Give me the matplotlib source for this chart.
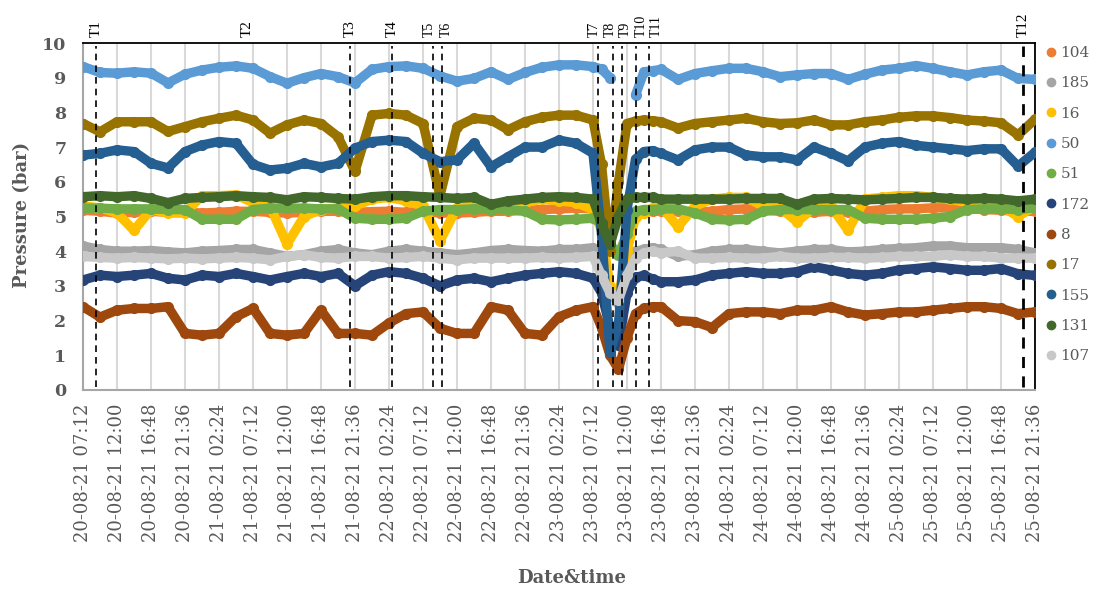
import numpy as np
import matplotlib
matplotlib.use("Agg")
import matplotlib.pyplot as plt
from matplotlib.lines import Line2D

# time axis: hours after 20-08-21 07:12
hours = [0, 2.4, 4.8, 7.2, 9.6, 12, 14.4, 16.8, 19.2, 21.6, 24, 26.4, 28.8, 31.2, 33.6, 36,
         38.4, 40.8, 43.2, 45.6, 48, 50.4, 52.8, 55.2, 57.6, 60, 62.4, 64.8, 67.2, 69.6, 72,
         73.2, 74.4, 75.6, 76.8, 78.0, 79.2, 80.4,
         81.6, 84, 86.4, 88.8, 91.2, 93.6, 96, 98.4, 100.8, 103.2, 105.6, 108, 110.4, 112.8,
         115.2, 117.6, 120, 122.4, 124.8, 127.2, 129.6, 132, 134.4]
nan = np.nan

s104 = [5.18, 5.15, 5.10, 5.12, 5.15, 5.12, 5.12, 5.10, 5.12, 5.15, 5.15, 5.12, 5.10, 5.12, 5.15, 5.15,
        5.12, 5.14, 5.15, 5.12, 5.15, 5.10, 5.10, 5.12, 5.15, 5.15, 5.18, 5.20, 5.22, 5.24, 5.22,
        5.0, nan, nan, nan, 5.1, 5.12, 5.15,
        5.15, 5.15, 5.12, 5.15, 5.20, 5.22, 5.18, 5.15, 5.12, 5.12, 5.15, 5.12, 5.15, 5.20, 5.22,
        5.22, 5.25, 5.25, 5.22, 5.20, 5.18, 5.15, 5.15]
s185 = [4.15, 4.05, 4.00, 4.00, 4.02, 3.98, 3.95, 4.00, 4.02, 4.05, 4.05, 3.95, 3.85, 3.90, 4.00, 4.05,
        3.95, 3.90, 4.00, 4.05, 4.00, 3.95, 3.90, 3.95, 4.02, 4.05, 4.02, 4.00, 4.05, 4.05, 4.10,
        3.6, 2.8, 2.5, 3.5, 4.0, 4.05, 4.1,
        4.05, 3.85, 3.90, 4.00, 4.05, 4.05, 4.00, 3.95, 4.00, 4.05, 4.05, 3.98, 4.00, 4.05, 4.08,
        4.10, 4.15, 4.15, 4.10, 4.10, 4.10, 4.05, 3.95]
s16 = [5.30, 5.25, 5.10, 4.60, 5.20, 5.10, 5.10, 5.60, 5.60, 5.62, 5.40, 5.30, 4.20, 5.00, 5.20, 5.25,
       5.30, 5.50, 5.55, 5.45, 5.30, 4.30, 5.25, 5.30, 5.35, 5.20, 5.40, 5.50, 5.45, 5.40, 5.20,
       4.6, 3.0, 2.7, 4.0, 5.0, 5.1, 5.25,
       5.30, 4.70, 5.30, 5.50, 5.55, 5.55, 5.30, 5.25, 4.85, 5.25, 5.30, 4.60, 5.50, 5.55, 5.60,
       5.60, 5.55, 5.50, 5.40, 5.35, 5.30, 5.00, 5.30]
s50 = [9.32, 9.15, 9.13, 9.17, 9.13, 8.85, 9.10, 9.22, 9.30, 9.34, 9.27, 9.03, 8.84, 9.00, 9.12, 9.03,
       8.85, 9.24, 9.32, 9.34, 9.27, 9.05, 8.90, 8.98, 9.17, 8.95, 9.15, 9.30, 9.37, 9.37, 9.32,
       9.25, 9.00, nan, nan, 8.50, 9.17, 9.20,
       9.24, 8.95, 9.12, 9.20, 9.27, 9.27, 9.17, 9.03, 9.08, 9.12, 9.12, 8.95, 9.10, 9.22, 9.27,
       9.35, 9.27, 9.17, 9.08, 9.17, 9.22, 8.98, 8.95]
s51 = [5.24, 5.24, 5.22, 5.22, 5.22, 5.20, 5.20, 4.92, 4.92, 4.92, 5.20, 5.24, 5.24, 5.24, 5.22, 5.22,
       4.95, 4.92, 4.92, 4.95, 5.15, 5.20, 5.20, 5.22, 5.20, 5.20, 5.15, 4.92, 4.90, 4.92, 4.95,
       4.8, 4.2, 3.9, 4.5, 5.15, 5.20, 5.20,
       5.22, 5.22, 5.10, 4.92, 4.90, 4.92, 5.15, 5.20, 5.20, 5.20, 5.20, 5.20, 4.95, 4.92, 4.92,
       4.92, 4.95, 5.00, 5.20, 5.22, 5.22, 5.20, 5.25]
s172 = [3.17, 3.31, 3.27, 3.31, 3.36, 3.22, 3.17, 3.31, 3.27, 3.36, 3.27, 3.17, 3.27, 3.36, 3.27, 3.36,
        3.00, 3.31, 3.41, 3.36, 3.22, 3.00, 3.17, 3.22, 3.12, 3.22, 3.31, 3.36, 3.41, 3.36, 3.22,
        2.8, 1.8, 1.3, 2.8, 3.25, 3.30, 3.20,
        3.12, 3.12, 3.17, 3.31, 3.36, 3.41, 3.36, 3.36, 3.41, 3.55, 3.46, 3.36, 3.31, 3.36, 3.46,
        3.50, 3.55, 3.50, 3.45, 3.45, 3.50, 3.35, 3.30]
s8 = [2.40, 2.10, 2.30, 2.35, 2.35, 2.40, 1.63, 1.58, 1.63, 2.11, 2.35, 1.63, 1.58, 1.63, 2.30, 1.63,
      1.63, 1.58, 1.93, 2.20, 2.25, 1.78, 1.63, 1.63, 2.40, 2.30, 1.63, 1.58, 2.11, 2.30, 2.40,
      1.8, 1.0, 0.6, 1.5, 2.2, 2.35, 2.4,
      2.40, 2.00, 1.97, 1.80, 2.20, 2.25, 2.25, 2.20, 2.30, 2.30, 2.40, 2.25, 2.16, 2.20, 2.25,
      2.25, 2.30, 2.35, 2.40, 2.40, 2.35, 2.20, 2.25]
s17 = [7.68, 7.44, 7.73, 7.73, 7.73, 7.45, 7.59, 7.73, 7.83, 7.92, 7.78, 7.40, 7.64, 7.78, 7.68, 7.30,
       6.30, 7.92, 7.97, 7.92, 7.68, 5.60, 7.59, 7.83, 7.78, 7.50, 7.73, 7.86, 7.92, 7.92, 7.78,
       6.5, 4.0, 6.0, 7.68, 7.75, 7.78, 7.76,
       7.73, 7.55, 7.68, 7.73, 7.78, 7.83, 7.73, 7.68, 7.70, 7.78, 7.64, 7.64, 7.73, 7.78, 7.86,
       7.90, 7.90, 7.85, 7.78, 7.75, 7.70, 7.35, 7.80]
s155 = [6.77, 6.82, 6.92, 6.87, 6.53, 6.40, 6.87, 7.06, 7.16, 7.11, 6.50, 6.34, 6.39, 6.53, 6.43, 6.53,
        6.97, 7.16, 7.20, 7.16, 6.82, 6.58, 6.63, 7.11, 6.43, 6.72, 7.00, 7.00, 7.20, 7.11, 6.82,
        4.5, 1.1, 1.9, 5.2, 6.65, 6.87, 6.90,
        6.82, 6.63, 6.92, 7.00, 7.00, 6.77, 6.72, 6.72, 6.63, 7.00, 6.82, 6.60, 7.00, 7.11, 7.16,
        7.05, 7.00, 6.95, 6.90, 6.95, 6.95, 6.45, 6.85]
s131 = [5.57, 5.60, 5.57, 5.60, 5.52, 5.40, 5.52, 5.55, 5.57, 5.60, 5.57, 5.55, 5.48, 5.57, 5.55, 5.52,
        5.50, 5.57, 5.60, 5.60, 5.57, 5.55, 5.52, 5.55, 5.35, 5.45, 5.50, 5.55, 5.57, 5.55, 5.50,
        4.8, 4.2, 5.0, 5.5, 5.55, 5.55, 5.55,
        5.50, 5.50, 5.50, 5.50, 5.50, 5.52, 5.52, 5.52, 5.35, 5.50, 5.52, 5.50, 5.48, 5.50, 5.52,
        5.55, 5.55, 5.52, 5.50, 5.52, 5.50, 5.45, 5.50]
s107 = [3.85, 3.82, 3.80, 3.82, 3.80, 3.78, 3.80, 3.78, 3.80, 3.82, 3.80, 3.75, 3.85, 3.90, 3.82, 3.80,
        3.85, 3.85, 3.80, 3.82, 3.85, 3.80, 3.75, 3.80, 3.80, 3.80, 3.80, 3.82, 3.80, 3.82, 3.85,
        3.3, 2.8, 2.6, 3.3, 3.8, 3.95, 4.0,
        3.95, 4.00, 3.80, 3.80, 3.82, 3.80, 3.80, 3.85, 3.80, 3.80, 3.82, 3.82, 3.80, 3.82, 3.85,
        3.85, 3.85, 3.90, 3.85, 3.85, 3.80, 3.80, 3.80]

series_names = ["104", "185", "16", "50", "51", "172", "8", "17", "155", "131", "107"]
series_values = [s104, s185, s16, s50, s51, s172, s8, s17, s155, s131, s107]
series_colors = ["#ED7D31", "#A5A5A5", "#FFC000", "#5B9BD5", "#70AD47", "#264478",
                 "#9E480E", "#997300", "#255E91", "#43682B", "#C8C8C8"]

tick_hours = [0, 4.8, 9.6, 14.4, 19.2, 24, 28.8, 33.6, 38.4, 43.2, 48, 52.8, 57.6, 62.4, 67.2,
              72, 76.8, 81.6, 86.4, 91.2, 96, 100.8, 105.6, 110.4, 115.2, 120, 124.8, 129.6, 134.4]
tick_labels = ["20-08-21 07:12", "20-08-21 12:00", "20-08-21 16:48", "20-08-21 21:36",
               "21-08-21 02:24", "21-08-21 07:12", "21-08-21 12:00", "21-08-21 16:48",
               "21-08-21 21:36", "22-08-21 02:24", "22-08-21 07:12", "22-08-21 12:00",
               "22-08-21 16:48", "22-08-21 21:36", "23-08-21 02:24", "23-08-21 07:12",
               "23-08-21 12:00", "23-08-21 16:48", "23-08-21 21:36", "24-08-21 02:24",
               "24-08-21 07:12", "24-08-21 12:00", "24-08-21 16:48", "24-08-21 21:36",
               "25-08-21 02:24", "25-08-21 07:12", "25-08-21 12:00", "25-08-21 16:48",
               "25-08-21 21:36"]

event_labels = ["T1", "T2", "T3", "T4", "T5", "T6", "T7", "T8", "T9", "T10", "T11", "T12"]
event_hours = [1.8, 23.2, 37.7, 43.6, 49.4, 50.7, 72.7, 74.8, 76.1, 78.1, 79.9, 132.7]
event_line = [True, False, True, True, True, True, True, True, True, True, True, True]
# small horizontal nudges (pixels) so that the crowded labels do not collide
event_nudge = [0, 0, 0, 0, -4, 4, -4, -3, 3, 5, 7, 0]
event_size = [11, 11, 11, 11, 10, 10, 10, 10, 10, 10, 10, 11]

SERIF = ["DejaVu Serif"]
TSERIF = ["Liberation Serif", "DejaVu Serif"]
GRAY = "#595959"

fig = plt.figure(figsize=(11.05, 5.92), dpi=100)
ax = fig.add_axes([83 / 1105, 1 - 390 / 592, (1035 - 83) / 1105, (390 - 43) / 592])

for name, vals, col in zip(series_names, series_values, series_colors):
    ax.plot(hours, vals, color=col, lw=6.8, marker="o", ms=7, mec=col, mfc=col,
            solid_capstyle="round", solid_joinstyle="round", zorder=3)

for lab, h, has_line, dx, fs in zip(event_labels, event_hours, event_line, event_nudge, event_size):
    if has_line:
        lw = 2.0 if lab == "T12" else 1.2
        ax.axvline(h, ymin=0.01, ymax=0.99, color="black", ls=(0, (4, 3)), lw=lw, zorder=5)
    ax.annotate(lab, xy=(h, 10), xycoords="data", xytext=(dx * 0.72, 4),
                textcoords="offset points", rotation=90, ha="center", va="bottom",
                fontsize=fs, family=TSERIF, color="black", annotation_clip=False)

ax.set_xlim(0, 134.4)
ax.set_ylim(0, 10)
ax.set_xticks(tick_hours)
ax.set_xticklabels(tick_labels, rotation=90, family=SERIF, fontsize=13, color=GRAY)
ax.set_yticks(range(0, 11))
ax.set_yticklabels([str(v) for v in range(0, 11)], family=SERIF, fontsize=12.5,
                   fontweight="bold", color=GRAY)
ax.tick_params(axis="both", length=0)
ax.tick_params(axis="x", pad=10)
ax.tick_params(axis="y", pad=12)
ax.grid(axis="x", color="#D9D9D9", lw=1.5, zorder=0)
ax.set_axisbelow(True)

for side in ("top", "right"):
    ax.spines[side].set_color("black")
    ax.spines[side].set_linewidth(1.3)
for side in ("left", "bottom"):
    ax.spines[side].set_color("#A6A6A6")
    ax.spines[side].set_linewidth(1.5)

fig.text(22 / 1105, 1 - 215 / 592, "Pressure (bar)", rotation=90, ha="center", va="center",
         family=SERIF, fontsize=13, fontweight="bold", color=GRAY)
fig.text(572 / 1105, 1 - 578 / 592, "Date&time", ha="center", va="center",
         family=SERIF, fontsize=13, fontweight="bold", color=GRAY)

handles = [Line2D([], [], ls="none", marker="o", ms=6, color=c) for c in series_colors]
fig.legend(handles, series_names, loc="upper left",
           bbox_to_anchor=(1046 / 1105, 1 - 46 / 592), frameon=False,
           prop={"family": SERIF, "size": 11}, labelcolor=GRAY,
           handlelength=0.6, handletextpad=0.35, labelspacing=1.07, borderpad=0,
           borderaxespad=0)

fig.savefig("out.png", dpi=100)
